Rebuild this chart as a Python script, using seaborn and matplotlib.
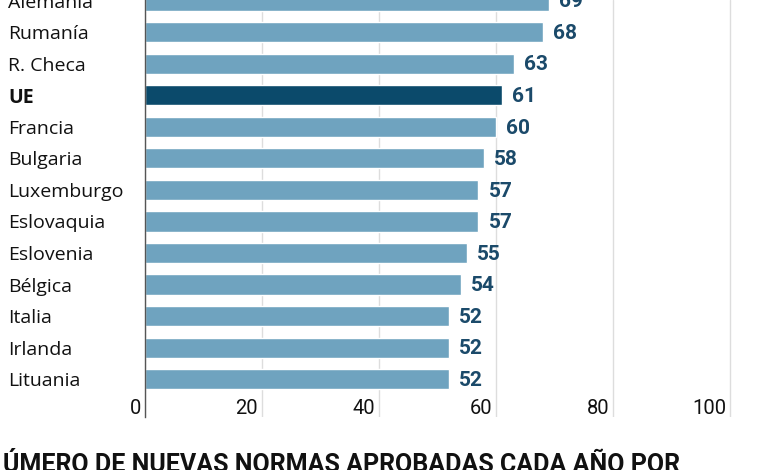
import matplotlib
matplotlib.use("Agg")
import matplotlib.pyplot as plt
import matplotlib.transforms as mtransforms
import seaborn as sns
import pandas as pd

# values (top of the ranking is cropped)
paises = ["Alemania", "Rumanía", "R. Checa", "UE", "Francia", "Bulgaria",
          "Luxemburgo", "Eslovaquia", "Eslovenia", "Bélgica", "Italia",
          "Irlanda", "Lituania"]
normas = [69, 68, 63, 61, 60, 58, 57, 57, 55, 54, 52, 52, 52]
x_ticks = [0, 20, 40, 60, 80, 100]
titulo = "ÚMERO DE NUEVAS NORMAS APROBADAS CADA AÑO POR"

BAR = "#6fa3bf"
HIGHLIGHT = "#0b4a6b"
VALUE_COL = "#1b4a6a"

sns.set_style("white")
plt.rcParams["font.family"] = ["Roboto", "DejaVu Sans"]

df = pd.DataFrame({"pais": paises, "normas": normas})
colores = {p: (HIGHLIGHT if p == "UE" else BAR) for p in paises}

fig = plt.figure(figsize=(7.7, 4.7), dpi=100)
ax = fig.add_axes([145 / 770, 1 - 417 / 470, (102 * 5.85) / 770, 417 / 470])

sns.barplot(data=df, x="normas", y="pais", hue="pais", palette=colores,
            legend=False, orient="h", width=0.64, ax=ax, saturation=1)

ax.set_xlim(0, 102)
ax.set_ylim(13.2, -0.02)
ax.set_xlabel("")
ax.set_ylabel("")

# grid
ax.set_xticks(x_ticks)
ax.xaxis.grid(True, color="#dddddd", linewidth=1)
ax.set_axisbelow(True)
ax.tick_params(axis="x", length=0, labelbottom=False)
for s in ["top", "right", "bottom"]:
    ax.spines[s].set_visible(False)
ax.spines["left"].set_color("#555555")
ax.spines["left"].set_linewidth(1)

# x tick labels sit left of each gridline, inside the plot bottom
trans = mtransforms.blended_transform_factory(ax.transData, ax.transAxes)
offset = mtransforms.ScaledTranslation(-4 / 100, -1 / 100, fig.dpi_scale_trans)
for t in x_ticks:
    ax.text(t, 0, str(t), transform=trans + offset, ha="right", va="bottom",
            fontsize=14.5, color="#111111")

# country labels, left aligned
ax.tick_params(axis="y", length=0, pad=137 * 0.72)
for lab in ax.get_yticklabels():
    lab.set_horizontalalignment("left")
    lab.set_fontsize(14)
    lab.set_family(["Open Sans", "DejaVu Sans"])
    lab.set_color("#111111")
    if lab.get_text() == "UE":
        lab.set_fontweight("bold")

# value labels
for i, v in enumerate(normas):
    ax.text(v + 10 / 5.85, i + 0.04, str(v), ha="left", va="center",
            fontsize=15, fontweight="bold", color=VALUE_COL)

fig.text(3 / 770, 1 - 472 / 470, titulo, ha="left", va="baseline",
         fontsize=18, fontweight="bold", color="#111111")

fig.savefig("out.png", dpi=100)
